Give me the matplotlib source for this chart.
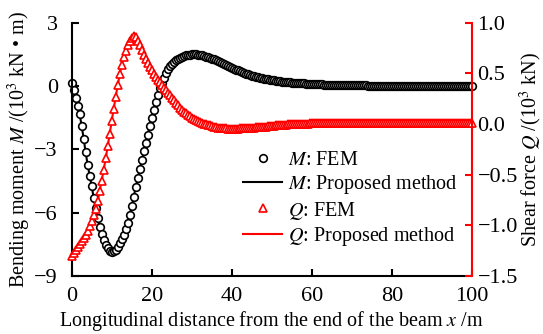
import numpy as np
import matplotlib
matplotlib.use('Agg')
import matplotlib.pyplot as plt

plt.rcParams['font.family'] = ['Liberation Serif', 'DejaVu Serif']
plt.rcParams['mathtext.fontset'] = 'stix'
FS = 14.5
TS = 16

#расстояние от конца балки, м (шаг 0.5 м)
x = np.arange(0, 100.5, 0.5)

#изгибающий момент, 10^3 кН*м
M = [0.15, -0.2, -0.55, -0.95, -1.35, -1.9, -2.5, -3.15, -3.75, -4.25,
     -4.75, -5.3, -5.8, -6.28, -6.7, -7.03, -7.3, -7.52, -7.7, -7.8,
     -7.85, -7.83, -7.75, -7.62, -7.45, -7.27, -7.05, -6.8, -6.5, -6.12,
     -5.7, -5.25, -4.8, -4.38, -3.95, -3.52, -3.1, -2.7, -2.3, -1.9,
     -1.5, -1.12, -0.75, -0.42, -0.1, 0.16, 0.4, 0.62, 0.8, 0.94,
     1.05, 1.14, 1.22, 1.29, 1.35, 1.39, 1.43, 1.46, 1.48, 1.49,
     1.5, 1.5, 1.5, 1.49, 1.47, 1.45, 1.42, 1.39, 1.36, 1.33,
     1.29, 1.26, 1.22, 1.18, 1.13, 1.09, 1.04, 1.0, 0.95, 0.9,
     0.86, 0.82, 0.78, 0.74, 0.70, 0.66, 0.62, 0.58, 0.55, 0.52,
     0.49, 0.46, 0.44, 0.41, 0.39, 0.37, 0.35, 0.33, 0.31, 0.29,
     0.28, 0.265, 0.25, 0.235, 0.22, 0.21, 0.20, 0.19, 0.18, 0.17,
     0.16, 0.155, 0.15, 0.14, 0.13, 0.125, 0.12, 0.115, 0.11, 0.105,
     0.10, 0.095, 0.09, 0.085, 0.08, 0.075, 0.07, 0.07, 0.07, 0.065,
     0.06, 0.055, 0.05, 0.05, 0.05, 0.045, 0.04, 0.04, 0.04, 0.035,
     0.03, 0.03, 0.03, 0.03, 0.03, 0.03, 0.03, 0.025, 0.02, 0.02,
     0.02, 0.02, 0.02, 0.02, 0.02, 0.015, 0.01, 0.01, 0.01, 0.01,
     0.01, 0.01, 0.01, 0.01, 0.01, 0.01, 0.01, 0.01, 0.01, 0.01,
     0.01, 0.01, 0.0, 0.0, 0.0, 0.0, 0.0, 0.0, 0.0, 0.0,
     0.0, 0.0, 0.0, 0.0, 0.0, 0.0, 0.0, 0.0, 0.0, 0.0,
     0.0, 0.0, 0.0, 0.0, 0.0, 0.0, 0.0, 0.0, 0.0, 0.0,
     0.0]

#поперечная сила, 10^3 кН
Q = [-1.30, -1.27, -1.24, -1.215, -1.19, -1.16, -1.13, -1.10, -1.06, -1.01,
     -0.96, -0.90, -0.84, -0.76, -0.66, -0.56, -0.45, -0.34, -0.22, -0.10,
     0.03, 0.15, 0.27, 0.38, 0.49, 0.58, 0.66, 0.72, 0.78, 0.82,
     0.85, 0.865, 0.86, 0.82, 0.78, 0.73, 0.68, 0.64, 0.60, 0.565,
     0.53, 0.495, 0.46, 0.435, 0.41, 0.385, 0.36, 0.335, 0.31, 0.285,
     0.26, 0.235, 0.21, 0.185, 0.16, 0.14, 0.12, 0.105, 0.09, 0.075,
     0.06, 0.05, 0.04, 0.03, 0.02, 0.01, 0.00, -0.005, -0.01, -0.015,
     -0.02, -0.025, -0.03, -0.035, -0.04, -0.04, -0.04, -0.042, -0.045, -0.045,
     -0.045, -0.045, -0.045, -0.045, -0.04, -0.04, -0.04, -0.04, -0.04, -0.04,
     -0.035, -0.035, -0.03, -0.03, -0.03, -0.03, -0.025, -0.025, -0.02, -0.02,
     -0.02, -0.02, -0.015, -0.015, -0.01, -0.01, -0.01, -0.01, -0.005, -0.005,
     -0.005, -0.005, 0.0, 0.0, 0.0, 0.0, 0.0, 0.0, 0.0, 0.005,
     0.005, 0.005, 0.005, 0.005, 0.005, 0.005, 0.005, 0.005, 0.005, 0.005,
     0.01, 0.01, 0.01, 0.01, 0.01, 0.01, 0.01, 0.01, 0.01, 0.01,
     0.01, 0.01, 0.01, 0.01, 0.01, 0.01, 0.01, 0.01, 0.01, 0.01,
     0.01, 0.01, 0.01, 0.01, 0.01, 0.01, 0.01, 0.01, 0.01, 0.01,
     0.01, 0.01, 0.01, 0.01, 0.01, 0.01, 0.01, 0.01, 0.01, 0.01,
     0.01, 0.01, 0.01, 0.01, 0.01, 0.01, 0.01, 0.01, 0.01, 0.01,
     0.01, 0.01, 0.01, 0.01, 0.01, 0.01, 0.01, 0.01, 0.01, 0.01,
     0.01, 0.01, 0.01, 0.01, 0.01, 0.01, 0.01, 0.01, 0.01, 0.01,
     0.01]

x_ticks = [0, 20, 40, 60, 80, 100]
m_ticks = [3, 0, -3, -6, -9]
q_ticks = [1.0, 0.5, 0.0, -0.5, -1.0, -1.5]

fig = plt.figure(figsize=(5.43, 3.34), dpi=100)
ax = fig.add_axes([0.132, 0.174, 0.737, 0.758])
ax2 = ax.twinx()

#момент
l1, = ax.plot(x, M, color='black', linewidth=1.5, label='$M$: Proposed method')
p1, = ax.plot(x, M, linestyle='none', marker='o', markersize=5.5, markerfacecolor='white',
              markeredgecolor='black', markeredgewidth=1.2, clip_on=False, label='$M$: FEM')

#сила
l2, = ax2.plot(x, Q, color='red', linewidth=1.5, label='$Q$: Proposed method')
p2, = ax2.plot(x, Q, linestyle='none', marker='^', markersize=6, markerfacecolor='white',
               markeredgecolor='red', markeredgewidth=1.2, clip_on=False, label='$Q$: FEM')

ax.set_xlim(0, 100)
ax.set_ylim(-9, 3)
ax2.set_ylim(-1.5, 1.0)
ax.set_xticks(x_ticks)
ax.set_yticks(m_ticks)
ax.set_yticklabels([str(v) if v >= 0 else '\u2212%d' % -v for v in m_ticks])
ax2.set_yticks(q_ticks)
ax2.set_yticklabels(['%.1f' % v if v >= 0 else '\u2212%.1f' % -v for v in q_ticks])

for a in (ax, ax2):
    a.spines['top'].set_visible(False)
    for s in a.spines.values():
        s.set_linewidth(1.5)
ax2.spines['left'].set_visible(False)
ax2.spines['bottom'].set_visible(False)
ax.spines['right'].set_visible(False)
ax2.spines['right'].set_color('red')

ax.tick_params(axis='x', direction='in', length=5, width=1.5, labelsize=TS, pad=8)
ax.tick_params(axis='y', direction='in', length=5, width=1.5, labelsize=TS, pad=10)
ax2.tick_params(direction='in', length=5, width=1.5, labelsize=TS, colors='red',
                labelcolor='black', pad=4)

ax.set_xlabel('Longitudinal distance from the end of the beam $x$ /m', fontsize=FS, labelpad=2)
ax.set_ylabel('Bending moment $M$ /(10$^3$ kN \u2022 m)', fontsize=FS, labelpad=1)
ax2.set_ylabel('Shear force $Q$ /(10$^3$ kN)', fontsize=FS, labelpad=0)

ax2.legend([p1, l1, p2, l2], [h.get_label() for h in (p1, l1, p2, l2)],
           loc='upper left', bbox_to_anchor=(243 / 543, 1 - 151 / 334),
           bbox_transform=fig.transFigure, frameon=False, borderpad=0,
           borderaxespad=0, handlelength=1.95, handletextpad=0.3,
           labelspacing=0.16, fontsize=FS)

fig.savefig('out.png', dpi=100)
